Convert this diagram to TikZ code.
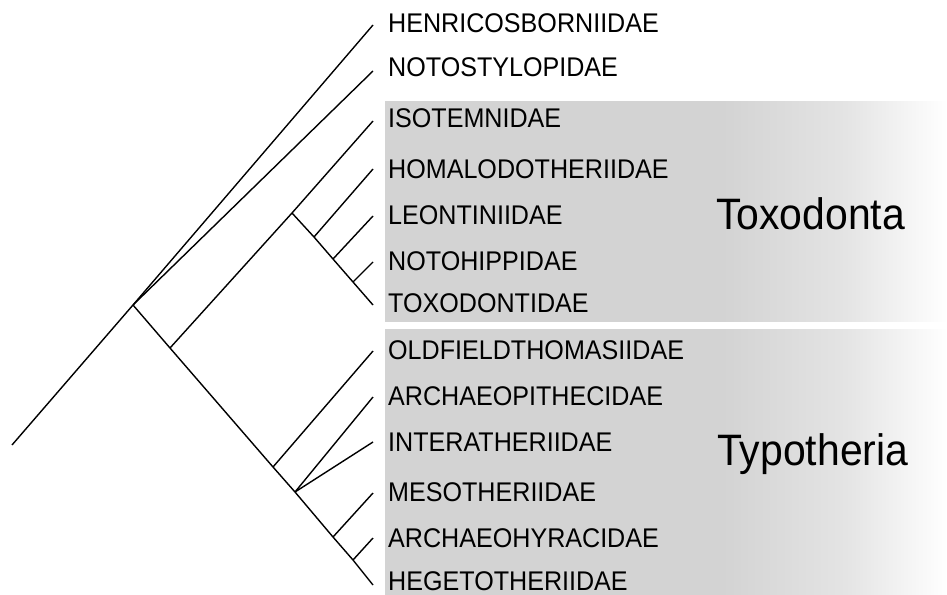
\documentclass[tikz,border=0pt]{standalone}
\usepackage{fontspec}
\setmainfont{Liberation Sans}
\definecolor{boxgray}{RGB}{211,211,211}
\definecolor{boxmid}{RGB}{228,228,228}
\pgfdeclarehorizontalshading{panelfade}{100bp}{color(0bp)=(boxgray); color(25bp)=(boxgray); color(55bp)=(boxgray); color(66bp)=(boxmid); color(75bp)=(white); color(100bp)=(white)}
\newcommand{\taxtext}[1]{\scalebox{0.93}[1]{#1}}
\begin{document}
\begin{tikzpicture}[x=1pt,y=-1pt,
  branch/.style={line width=1.4pt},
  taxon/.style={anchor=base west, inner sep=0pt, font=\fontsize{27}{27}\selectfont},
  clade/.style={anchor=base west, inner sep=0pt, font=\fontsize{44}{44}\selectfont},
  panel/.style={shading=panelfade, shading angle=0, draw=none}]
\useasboundingbox (0,0) rectangle (947,594);
% shaded panels
\shade[panel] (385,101) rectangle (947,321);
\shade[panel] (385,329) rectangle (947,594);
% internal nodes and tips
\coordinate (base) at (12,445);
\coordinate (root) at (133,305);
\coordinate (ntt) at (170,348);
\coordinate (ntox) at (292,213);
\coordinate (nhom) at (314,237);
\coordinate (nleo) at (333,259);
\coordinate (nnot) at (353,282);
\coordinate (nold) at (273,467);
\coordinate (nai) at (295,492);
\coordinate (nmes) at (333,537);
\coordinate (nahy) at (353,560);
\coordinate (tHen) at (373,25);
\coordinate (tNst) at (373,71);
\coordinate (tIso) at (373,121);
\coordinate (tHom) at (373,169);
\coordinate (tLeo) at (373,216);
\coordinate (tNoh) at (373,262);
\coordinate (tTox) at (373,305);
\coordinate (tOld) at (373,351);
\coordinate (tApi) at (373,397);
\coordinate (tInt) at (373,442);
\coordinate (tMes) at (373,493);
\coordinate (tAhy) at (373,538);
\coordinate (tHeg) at (373,585);
% branches
\draw[branch] (base) -- (root) -- (tHen);
\draw[branch] (root) -- (tNst);
\draw[branch] (root) -- (ntt) -- (nold) -- (nai) -- (nmes) -- (nahy) -- (tHeg);
\draw[branch] (ntt) -- (ntox) -- (tIso);
\draw[branch] (ntox) -- (nhom) -- (nleo) -- (nnot) -- (tTox);
\draw[branch] (nhom) -- (tHom);
\draw[branch] (nleo) -- (tLeo);
\draw[branch] (nnot) -- (tNoh);
\draw[branch] (nold) -- (tOld);
\draw[branch] (nai) -- (tApi);
\draw[branch] (nai) -- (tInt);
\draw[branch] (nmes) -- (tMes);
\draw[branch] (nahy) -- (tAhy);
% labels
\node[taxon] (lHen) at (388,33) {\taxtext{HENRICOSBORNIIDAE}};
\node[taxon] (lNst) at (388,77) {\taxtext{NOTOSTYLOPIDAE}};
\node[taxon] (lIso) at (388,127) {\taxtext{ISOTEMNIDAE}};
\node[taxon] (lHom) at (388,178) {\taxtext{HOMALODOTHERIIDAE}};
\node[taxon] (lLeo) at (388,224) {\taxtext{LEONTINIIDAE}};
\node[taxon] (lNoh) at (388,270) {\taxtext{NOTOHIPPIDAE}};
\node[taxon] (lTox) at (388,312) {\taxtext{TOXODONTIDAE}};
\node[taxon] (lOld) at (388,359) {\taxtext{OLDFIELDTHOMASIIDAE}};
\node[taxon] (lApi) at (388,405) {\taxtext{ARCHAEOPITHECIDAE}};
\node[taxon] (lInt) at (388,451) {\taxtext{INTERATHERIIDAE}};
\node[taxon] (lMes) at (388,501) {\taxtext{MESOTHERIIDAE}};
\node[taxon] (lAhy) at (388,547) {\taxtext{ARCHAEOHYRACIDAE}};
\node[taxon] (lHeg) at (388,590) {\taxtext{HEGETOTHERIIDAE}};
\node[clade] (cTox) at (716,229) {\taxtext{Toxodonta}};
\node[clade] (cTyp) at (717,465) {\taxtext{Typotheria}};
\end{tikzpicture}
\end{document}
